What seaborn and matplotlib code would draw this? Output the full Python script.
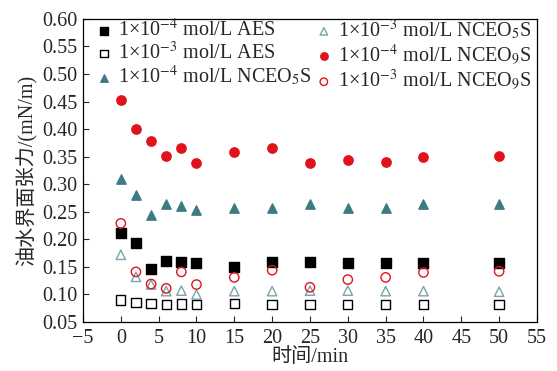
import matplotlib as mpl
mpl.use("Agg")
import matplotlib.pyplot as plt
import seaborn as sns
import pandas as pd
import numpy as np

# time points (min)
time = [0, 2, 4, 6, 8, 10, 15, 20, 25, 30, 35, 40, 50]

# interfacial tension (mN/m)
aes_1e4 = [0.212, 0.194, 0.147, 0.161, 0.159, 0.158, 0.150, 0.159, 0.159, 0.158, 0.158, 0.157, 0.158]
aes_1e3 = [0.090, 0.086, 0.084, 0.082, 0.083, 0.082, 0.084, 0.082, 0.082, 0.082, 0.082, 0.082, 0.082]
nceo5_1e4 = [0.309, 0.280, 0.244, 0.265, 0.261, 0.253, 0.257, 0.257, 0.264, 0.257, 0.257, 0.265, 0.265]
nceo5_1e3 = [0.172, 0.132, 0.118, 0.106, 0.107, 0.100, 0.106, 0.106, 0.107, 0.107, 0.106, 0.106, 0.105]
nceo9_1e4 = [0.452, 0.401, 0.379, 0.351, 0.365, 0.338, 0.358, 0.365, 0.338, 0.344, 0.340, 0.349, 0.351]
nceo9_1e3 = [0.229, 0.141, 0.119, 0.111, 0.141, 0.118, 0.131, 0.144, 0.113, 0.127, 0.131, 0.140, 0.142]

labels = [
    r"1×10$^{-4}$ mol/L AES",
    r"1×10$^{-3}$ mol/L AES",
    r"1×10$^{-4}$ mol/L NCEO$_5$S",
    r"1×10$^{-3}$ mol/L NCEO$_5$S",
    r"1×10$^{-4}$ mol/L NCEO$_9$S",
    r"1×10$^{-3}$ mol/L NCEO$_9$S",
]

sns.set_style("ticks")
plt.rcParams["font.family"] = ["Liberation Serif", "Noto Sans CJK SC"]
plt.rcParams["mathtext.fontset"] = "stix"
plt.rcParams["font.size"] = 14.5

red = "#e0131c"
teal = "#3d7a83"
teal_light = "#7aa3aa"

# (values, marker, face, edge)
series = [
    (aes_1e4, "s", "black", "black"),
    (aes_1e3, "s", "none", "black"),
    (nceo5_1e4, "^", teal, teal),
    (nceo5_1e3, "^", "none", teal_light),
    (nceo9_1e4, "o", red, red),
    (nceo9_1e3, "o", "none", red),
]

fig = plt.figure(figsize=(5.57, 3.71), dpi=100)
ax = fig.add_axes([0.149, 0.132, 0.815, 0.817])

for (vals, m, fc, ec), lab in zip(series, labels):
    df = pd.DataFrame({"t": time, "ift": vals})
    sns.scatterplot(data=df, x="t", y="ift", marker=m, s=45,
                    facecolor=fc, edgecolor=ec, linewidth=1.0,
                    label=lab, ax=ax, zorder=3)

ax.set_xlim(-5, 55)
ax.set_ylim(0.05, 0.60)
ax.set_xticks(np.arange(-5, 56, 5))
ax.set_xticklabels([str(int(v)).replace("-", "\u2212") for v in np.arange(-5, 56, 5)])
ax.set_yticks(np.arange(0.05, 0.601, 0.05))
ax.set_yticklabels([f"{v:.2f}" for v in np.arange(0.05, 0.601, 0.05)])
ax.tick_params(direction="in", length=4, width=0.8, top=False, right=False)
ax.tick_params(axis="x", pad=5)
ax.tick_params(axis="y", pad=4)
for sp in ax.spines.values():
    sp.set_linewidth(0.9)
    sp.set_color("black")

ax.set_xlabel("时间/min", labelpad=0)
ax.set_ylabel("油水界面张力/(mN/m)", labelpad=3)

ax.legend(ncol=2, loc="upper left", bbox_to_anchor=(0.015, 1.025), frameon=False,
          handlelength=0.8, handletextpad=0.3, columnspacing=0.2,
          labelspacing=0.0, markerscale=0.8, borderaxespad=0.1, borderpad=0.2)

plt.savefig("out.png", dpi=100)
plt.close()
